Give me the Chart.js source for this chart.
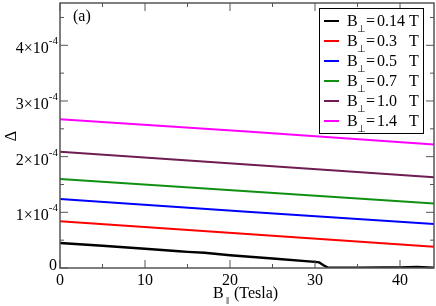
<!DOCTYPE html>
<html lang="en">
<head>
    <meta charset="UTF-8">
    <title>Delta vs B parallel</title>
    <style>
        body { margin: 0; background: #fff; font-family: "Liberation Serif", serif; }
        canvas { display: block; }
        .probe { position: absolute; left: -999px; top: 0; font: 16px "Liberation Serif"; }
    </style>
</head>
<body>
    <span class="probe">B (Tesla) 0.14 T ×10 (a)</span>
    <canvas id="deltaChart" width="436" height="306"></canvas>
    <script src="https://cdn.jsdelivr.net/npm/chart.js"></script>
    <script>
        // field values (Tesla) and gap values in units of 1e-4
        const bPar = [0, 22, 44];
        const blackX = [0, 5, 10, 14, 15, 17, 20, 25, 30, 30.5, 31, 31.5, 32, 35, 38, 40, 42, 44];
        const blackY = [0.45, 0.40, 0.345, 0.30, 0.29, 0.275, 0.23, 0.17, 0.11, 0.10, 0.05, 0.01, 0.005, 0.005, 0.01, 0.01, 0.02, 0.005];
        const red = [0.84, 0.61, 0.38];
        const blue = [1.24, 1.01, 0.79];
        const green = [1.60, 1.38, 1.16];
        const purple = [2.09, 1.86, 1.63];
        const magenta = [2.67, 2.45, 2.22];
        const perpLabels = ['0.14', '0.3', '0.5', '0.7', '1.0', '1.4'];
        const xTicks = [0, 10, 20, 30, 40];
        const yTicks = [0, 1, 2, 3, 4];

        const FAM = '"Liberation Serif", "Times New Roman", serif';
        const f = px => px + 'px ' + FAM;
        const unit = 1e-4;
        const pts = (xs, ys) => xs.map((x, i) => ({ x: x, y: ys[i] * unit }));

        const colors = ['#000000', '#ff0000', '#0000ff', '#109010', '#6e1c52', '#ff00ff'];
        const series = [
            pts(blackX, blackY),
            pts(bPar, red),
            pts(bPar, blue),
            pts(bPar, green),
            pts(bPar, purple),
            pts(bPar, magenta)
        ];

        const datasets = series.map((d, i) => ({
            label: 'B⊥ = ' + perpLabels[i] + ' T',
            data: d,
            borderColor: colors[i],
            borderWidth: i === 0 ? 2.4 : 2,
            pointRadius: 0,
            fill: false,
            tension: 0
        }));

        // frame, inward ticks, labels and legend
        const decor = {
            id: 'decor',
            afterDraw(chart) {
                const ctx = chart.ctx;
                const a = chart.chartArea;
                const xs = chart.scales.x, ys = chart.scales.y;
                ctx.save();
                ctx.strokeStyle = '#555';
                ctx.lineWidth = 1.5;
                ctx.strokeRect(a.left, a.top, a.right - a.left, a.bottom - a.top);

                ctx.lineWidth = 1;
                for (let v = 0; v <= 44; v += 5) {
                    const px = xs.getPixelForValue(v);
                    const len = v % 10 === 0 ? 8 : 4;
                    ctx.beginPath();
                    ctx.moveTo(px, a.bottom); ctx.lineTo(px, a.bottom - len);
                    ctx.moveTo(px, a.top); ctx.lineTo(px, a.top + len);
                    ctx.stroke();
                }
                for (let v = 0; v <= 4.7; v += 0.5) {
                    const py = ys.getPixelForValue(v * unit);
                    const len = Math.abs(v % 1) < 1e-9 ? 8 : 4;
                    ctx.beginPath();
                    ctx.moveTo(a.left, py); ctx.lineTo(a.left + len, py);
                    ctx.moveTo(a.right, py); ctx.lineTo(a.right - len, py);
                    ctx.stroke();
                }

                ctx.fillStyle = '#000';
                ctx.textBaseline = 'alphabetic';
                // x tick labels
                ctx.font = f(16);
                ctx.textAlign = 'center';
                xTicks.forEach(v => {
                    ctx.fillText(String(v), xs.getPixelForValue(v), a.bottom + 17);
                });
                // y tick labels with superscript exponent
                yTicks.forEach(v => {
                    const py = ys.getPixelForValue(v * unit);
                    ctx.textAlign = 'right';
                    if (v === 0) {
                        ctx.font = f(16);
                        ctx.fillText('0', a.left - 3, py + 2);
                        return;
                    }
                    ctx.font = f(11);
                    ctx.fillText('-4', a.left - 2, py - 1);
                    const ew = ctx.measureText('-4').width;
                    ctx.font = f(16);
                    ctx.fillText(v + '×10', a.left - 2 - ew, py + 8);
                });

                // axis titles
                ctx.textAlign = 'left';
                ctx.font = f(16);
                ctx.fillText('B', 213, 298);
                ctx.font = f(11);
                ctx.fillText('‖', 226, 304);
                ctx.font = f(16);
                ctx.fillText('(Tesla)', 234, 298);

                ctx.save();
                ctx.translate(16, 136);
                ctx.rotate(-Math.PI / 2);
                ctx.textAlign = 'center';
                ctx.fillText('Δ', 0, 0);
                ctx.restore();

                ctx.textAlign = 'left';
                ctx.fillText('(a)', 73, 21);

                // legend
                const lx = 319, ly = 8, lw = 104, lh = 125;
                ctx.fillStyle = '#fff';
                ctx.fillRect(lx, ly, lw, lh);
                ctx.strokeStyle = '#000';
                ctx.lineWidth = 1;
                ctx.strokeRect(lx + 0.5, ly + 0.5, lw, lh);
                perpLabels.forEach((lab, i) => {
                    const cy = 21 + i * 20;
                    ctx.strokeStyle = colors[i];
                    ctx.lineWidth = 2;
                    ctx.beginPath();
                    ctx.moveTo(324, cy); ctx.lineTo(339, cy);
                    ctx.stroke();
                    ctx.fillStyle = '#000';
                    ctx.font = f(16);
                    ctx.fillText('B', 347, cy + 5);
                    ctx.font = f(10);
                    ctx.fillText('⊥', 357, cy + 11);
                    ctx.font = f(16);
                    ctx.fillText('=', 366, cy + 5);
                    ctx.fillText(lab, 377, cy + 5);
                    ctx.fillText('T', 409, cy + 5);
                });
                ctx.restore();
            }
        };

        function drawChart() {
            new Chart(document.getElementById('deltaChart'), {
                type: 'line',
                data: { datasets: datasets },
                options: {
                    responsive: false,
                    devicePixelRatio: 1,
                    animation: false,
                    layout: { padding: { top: 3, right: 2, left: 0, bottom: 0 } },
                    plugins: { legend: { display: false }, tooltip: { enabled: false } },
                    scales: {
                        x: {
                            type: 'linear',
                            min: 0,
                            max: 44,
                            grid: { display: false },
                            border: { display: false },
                            ticks: { display: false },
                            afterFit(s) { s.height = 38; }
                        },
                        y: {
                            min: 0,
                            max: 4.76e-4,
                            grid: { display: false },
                            border: { display: false },
                            ticks: { display: false },
                            afterFit(s) { s.width = 60; }
                        }
                    }
                },
                plugins: [decor]
            });
        }

        // make sure the serif face is ready before the canvas text is drawn
        if (document.fonts && document.fonts.load) {
            document.fonts.load(f(16)).then(drawChart, drawChart);
        } else {
            drawChart();
        }
    </script>
</body>
</html>
